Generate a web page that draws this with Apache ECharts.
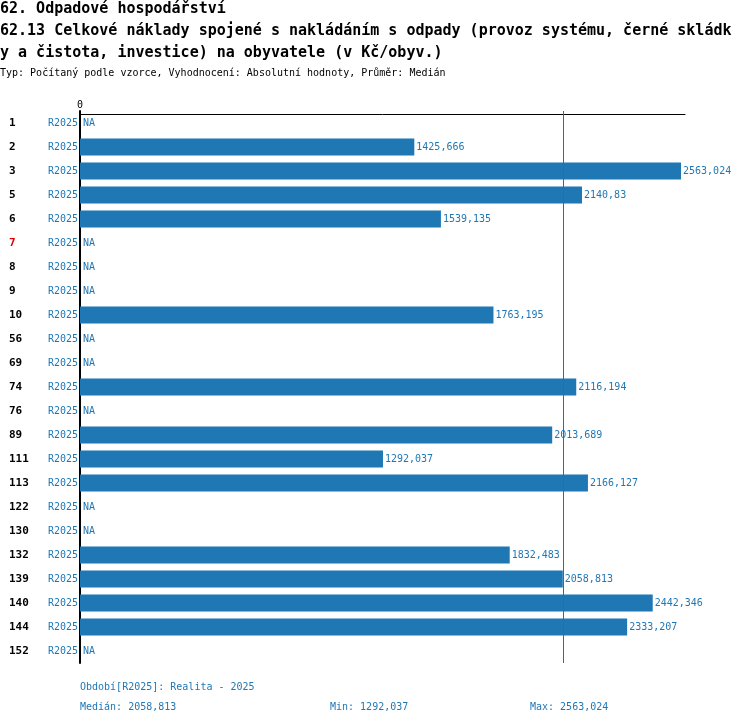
<!DOCTYPE html>
<html>
<head>
<meta charset="utf-8">
<script src="https://cdn.jsdelivr.net/npm/echarts@6/dist/echarts.min.js"></script>
<style>
  html, body { margin: 0; padding: 0; background: #fff; }
  #c { width: 750px; height: 726px; }
</style>
</head>
<body>
<div id="c"></div>
<script>
(() => {
  "use strict";
  const FONT = "DejaVu Sans Mono";
  const BLUE = "#1f77b4";

  // data
  const ids = ["1", "2", "3", "5", "6", "7", "8", "9", "10", "56", "69", "74", "76", "89", "111", "113", "122", "130", "132", "139", "140", "144", "152"];
  const period = "R2025";
  const values = [null, 1425.666, 2563.024, 2140.83, 1539.135, null, null, null, 1763.195, null, null, 2116.194, null, 2013.689, 1292.037, 2166.127, null, null, 1832.483, 2058.813, 2442.346, 2333.207, null];
  const redIds = ["7"];

  const fmt = v => String(v).replace(".", ",");
  const nums = values.filter(v => v != null).sort((a, b) => a - b);
  const median = nums.length % 2 ? nums[(nums.length - 1) / 2] : (nums[nums.length / 2 - 1] + nums[nums.length / 2]) / 2;
  const vmin = nums[0], vmax = nums[nums.length - 1];

  const chart = echarts.init(document.getElementById("c"));
  window.addEventListener("resize", () => chart.resize());

  const small = (text, left, top, color) => ({
    text, left, top, padding: 0,
    textStyle: { fontFamily: FONT, fontSize: 10, fontWeight: "normal", color }
  });

  chart.setOption({
    animation: false,
    textStyle: { fontFamily: FONT },
    title: [
      {
        text: "62. Odpadové hospodářství\n62.13 Celkové náklady spojené s nakládáním s odpady (provoz systému, černé skládk\ny a čistota, investice) na obyvatele (v Kč/obyv.)",
        left: 0, top: -2, padding: 0,
        textStyle: { fontFamily: FONT, fontSize: 15, fontWeight: "bold", color: "#000", lineHeight: 22 }
      },
      small("Typ: Počítaný podle vzorce, Vyhodnocení: Absolutní hodnoty, Průměr: Medián", 0, 68, "#000"),
      small("Období[" + period + "]: Realita - 2025", 80, 682, BLUE),
      small("Medián: " + fmt(median), 80, 702, BLUE),
      small("Min: " + fmt(vmin), 330, 702, BLUE),
      small("Max: " + fmt(vmax), 530, 702, BLUE)
    ],
    grid: { left: 80, right: 65, top: 111, bottom: 63, containLabel: false },
    xAxis: {
      type: "value", position: "top", min: 0, max: 2580, interval: 2580, offset: -3,
      axisLine: { show: true, lineStyle: { color: "#000", width: 1 } },
      axisTick: { show: false },
      splitLine: { show: false },
      axisLabel: { margin: 4, color: "#000", fontFamily: FONT, fontSize: 10, formatter: v => v === 0 ? "0" : "" }
    },
    yAxis: {
      type: "category", inverse: true, data: ids,
      axisLine: { show: true, lineStyle: { color: "#000", width: 2 } },
      axisTick: { show: false },
      axisLabel: {
        margin: 2, align: "right", fontFamily: FONT,
        formatter: v => `{${redIds.includes(v) ? "r" : "id"}|${v}}{p|${period}}`,
        rich: {
          id: { width: 39, align: "left", fontWeight: "bold", fontSize: 11, color: "#000", fontFamily: FONT },
          r: { width: 39, align: "left", fontWeight: "bold", fontSize: 11, color: "#e00000", fontFamily: FONT },
          p: { fontSize: 10, color: BLUE, fontFamily: FONT }
        }
      }
    },
    series: [{
      type: "bar",
      barWidth: 17,
      itemStyle: { color: BLUE },
      label: {
        show: true, position: "right", distance: 2, color: BLUE,
        fontFamily: FONT, fontSize: 10,
        formatter: p => fmt(p.value)
      },
      data: values.map(v => v == null ? { value: 0, label: { formatter: "NA", distance: 3 } } : v),
      markLine: {
        silent: true, symbol: "none",
        label: { show: false },
        lineStyle: { color: "#2a6ea0", width: 1, type: "solid" },
        data: [{ xAxis: median }]
      }
    }]
  });
})();
</script>
</body>
</html>
